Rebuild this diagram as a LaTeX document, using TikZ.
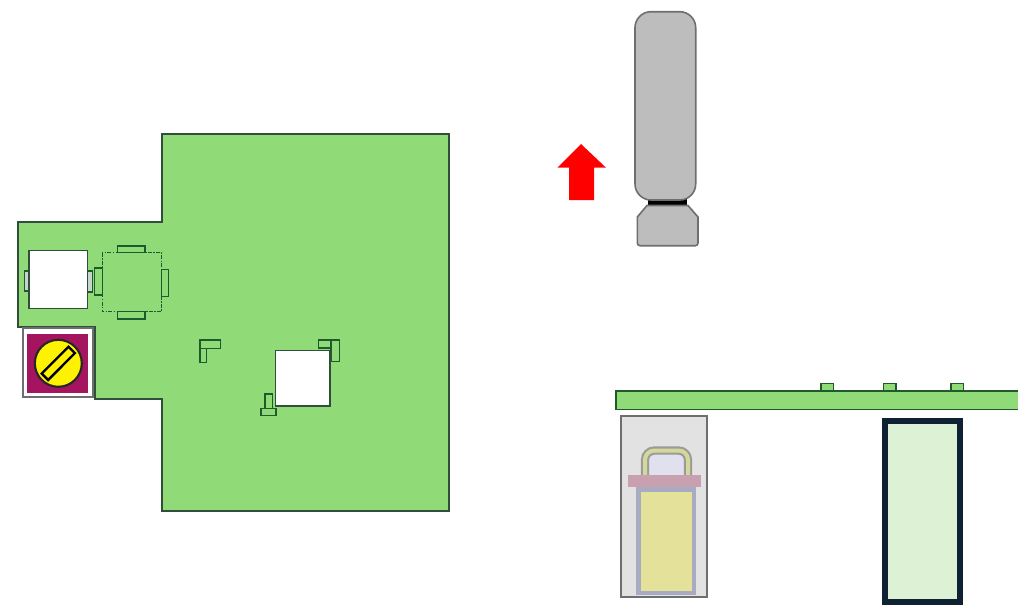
\documentclass[tikz,border=0pt]{standalone}
\usepackage{tikz}
\definecolor{boardgreen}{HTML}{90DA78}
\definecolor{padline}{HTML}{1F5A2C}
\definecolor{paleline}{HTML}{2F4F3A}
\definecolor{padgrey}{HTML}{C8D4D0}
\definecolor{bodygrey}{HTML}{BDBDBD}
\definecolor{bodyline}{HTML}{6E6E6E}
\definecolor{plum}{HTML}{A5155F}
\definecolor{hazebox}{HTML}{E2E2E2}
\definecolor{hazepink}{HTML}{C9A0B0}
\definecolor{hazeblue}{HTML}{A9ABC2}
\definecolor{hazeyellow}{HTML}{E4E29A}
\definecolor{hazehandle}{HTML}{D6D89A}
\definecolor{hazegrey}{HTML}{9A9C98}
\definecolor{hazeinner}{HTML}{E0E0EE}
\definecolor{palegreen}{HTML}{DDF1D5}
\definecolor{navyline}{HTML}{0E2233}
\tikzset{
  pad/.style={draw=padline, line width=1pt, fill=boardgreen},
  greypad/.style={draw=padline, line width=1pt, fill=padgrey},
  window/.style={draw=paleline, line width=1.1pt, fill=white},
}
\begin{document}
\begin{tikzpicture}[x=0.75pt, y=-0.75pt]
    \useasboundingbox (0,0) rectangle (1018,607);
    % board outline
    \draw[fill=boardgreen, draw=paleline, line width=0.8pt]
      (162,134) -- (449,134) -- (449,511) -- (162,511) -- (162,399) -- (95,399)
      -- (95,327) -- (18,327) -- (18,222) -- (162,222) -- cycle;
    % left window and dashed part
    \draw[greypad] (24.3,271) rectangle (31,291);
    \draw[greypad] (86,271) rectangle (92.7,292);
    \draw[window] (29,250.7) rectangle (87.7,308.7);
    \draw[pad] (94.7,268) rectangle (102.3,295);
    \draw[pad] (161.7,269.3) rectangle (168.7,296.7);
    \draw[pad] (117.3,246) rectangle (145,252.7);
    \draw[pad] (117.3,311.7) rectangle (145,319);
    \draw[draw=padline, line width=1.1pt, densely dash dot] (102.3,252.7) rectangle (161.7,311.7);
    % screw plate
    \draw[fill=white, draw=bodyline, line width=1.2pt] (22.7,328) rectangle (92.7,397);
    \fill[plum] (27.3,334) rectangle (88.3,392.7);
    \draw[fill=yellow, draw=black!85, line width=1.6pt] (58.3,363.3) circle (23.5);
    \draw[fill=yellow, draw=black, line width=1.8pt]
      (74.9,353.1) -- (68.5,346.7) -- (41.7,373.5) -- (48.1,380) -- cycle;
    % small clips
    \draw[pad] (200,340) rectangle (206.7,362.7);
    \draw[pad] (200,340) rectangle (220.7,348.3);
    \draw[pad] (318.3,340) rectangle (339.3,348);
    \draw[pad] (331,340) rectangle (339.3,361.7);
    \draw[window] (275.7,350.7) rectangle (330,406);
    \draw[pad] (265,394) rectangle (272.3,408.3);
    \draw[pad] (261,408.3) rectangle (276,415.3);
    % arrow
    \fill[red] (581,144) -- (606,167.7) -- (594,167.7) -- (594,200) -- (569,200)
      -- (569,167.7) -- (557.3,167.7) -- cycle;
    % grey body
    \fill[black] (647.7,198) rectangle (687.3,207);
    \draw[fill=bodygrey, draw=bodyline, line width=1.2pt, rounded corners=12]
      (635,11.7) rectangle (695.7,200);
    \draw[fill=bodygrey, draw=bodyline, line width=1.2pt]
      (647,205.5) -- (688,205.5) -- (698,217) -- (698,243) [rounded corners=2] -- (698,245.7)
      -- (637.3,245.7) [sharp corners] -- (637.3,217) -- cycle;
    % strip and its pads
    \foreach \x in {821,883.3,951}{
      \draw[draw=padline, line width=1pt, fill=boardgreen] (\x,383.3) rectangle ++(12.8,8);
    }
    \draw[fill=boardgreen, draw=padline, line width=1.1pt] (616,391) rectangle (1019,409.3);
    % hazy box
    \draw[fill=hazebox, draw=bodyline, line width=1.3pt] (620.7,415.7) rectangle (706.7,596.7);
    \fill[hazeinner] (649,455) rectangle (684,476);
    \draw[draw=hazegrey, line width=6.2pt, rounded corners=7]
      (645,476) -- (645,450.5) -- (688,450.5) -- (688,476);
    \draw[draw=hazehandle, line width=3pt, rounded corners=7]
      (645,476) -- (645,450.5) -- (688,450.5) -- (688,476);
    \fill[hazeblue] (636,486) rectangle (696,595);
    \fill[hazeyellow] (640.7,492.3) rectangle (691.7,591);
    \fill[hazepink] (628.3,475) rectangle (700.7,486.7);
    % pale box
    \draw[fill=palegreen, draw=navyline, line width=4.5pt] (885.3,421.3) rectangle (960.3,602);
\end{tikzpicture}
\end{document}
